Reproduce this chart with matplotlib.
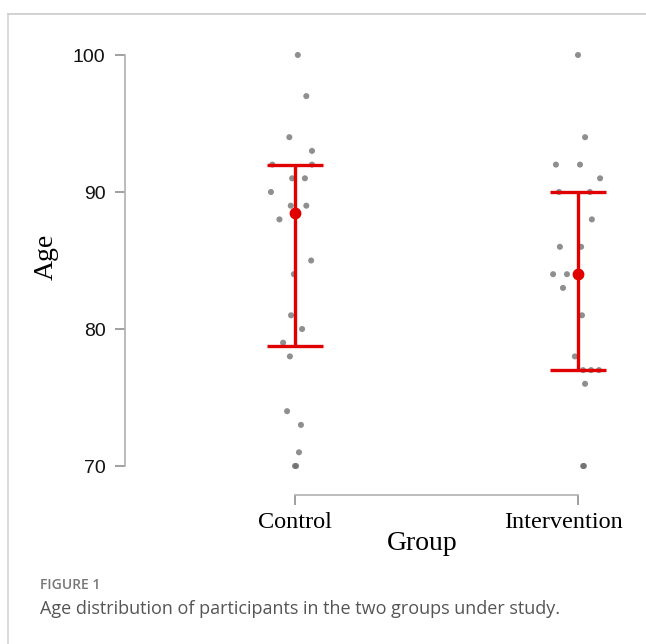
import matplotlib
matplotlib.use("Agg")
import matplotlib.pyplot as plt
import matplotlib.transforms as mtransforms
from matplotlib.lines import Line2D
import numpy as np

# ---- data ----
groups = ["Control", "Intervention"]
control_age = [100, 97, 94, 93, 92, 92, 91, 91, 90, 89, 89, 88, 85, 84, 81, 80, 79, 78, 74, 73, 71, 70, 70]
control_jitter = [0.01, 0.04, -0.02, 0.06, -0.08, 0.06, -0.01, 0.035, -0.085, -0.015, 0.04, -0.055, 0.057, -0.004, -0.014, 0.025, -0.042, -0.018, -0.028, 0.021, 0.014, 0.004, 0.0]
interv_age = [100, 94, 92, 92, 91, 90, 90, 88, 86, 86, 84, 84, 83, 81, 78, 77, 77, 77, 76, 70, 70]
interv_jitter = [0.0, 0.025, -0.078, 0.007, 0.078, -0.067, 0.042, 0.049, -0.064, 0.011, -0.088, -0.039, -0.053, 0.014, -0.011, 0.018, 0.046, 0.074, 0.025, 0.021, 0.018]
centers = [88.5, 84.0]
lower = [78.75, 77.0]
upper = [92.0, 90.0]
yticks = [70, 80, 90, 100]

W, H = 646, 644
fig = plt.figure(figsize=(W / 100, H / 100), dpi=100)

# figure frame (light gray border at top and left)
fig.add_artist(Line2D([8 / W, 1], [1 - 14 / H, 1 - 14 / H], color="#cfcfcf", lw=1.3, transform=fig.transFigure))
fig.add_artist(Line2D([8 / W, 8 / W], [0, 1 - 14 / H], color="#cfcfcf", lw=1.1, transform=fig.transFigure))

left_px, right_px, top_px, bot_px = 125, 640, 55, 466
ax = fig.add_axes([left_px / W, 1 - bot_px / H, (right_px - left_px) / W, (bot_px - top_px) / H])
ax.set_ylim(70, 100)
# x: 1 -> 295px, 2 -> 578px
ppu = 283.0
ax.set_xlim(1 - (295 - left_px) / ppu, 2 + (right_px - 578) / ppu)

x_c = [1 + j for j in control_jitter]
x_i = [2 + j for j in interv_jitter]
ax.scatter(x_c, control_age, s=19, color="#6a6a6a", alpha=0.75, edgecolors="none", zorder=2, clip_on=False)
ax.scatter(x_i, interv_age, s=19, color="#6a6a6a", alpha=0.75, edgecolors="none", zorder=2, clip_on=False)

xs = [1, 2]
yerr = [[c - l for c, l in zip(centers, lower)], [u - c for c, u in zip(centers, upper)]]
ax.errorbar(xs, centers, yerr=yerr, fmt="o", color="#e00000", ms=7.5, elinewidth=2.4,
            capsize=20, capthick=2.4, zorder=3, clip_on=False)

for s in ["top", "right"]:
    ax.spines[s].set_visible(False)
ax.spines["left"].set_bounds(70, 100)
ax.spines["bottom"].set_bounds(1, 2)
ax.spines["bottom"].set_position(("outward", 21))
for s in ["left", "bottom"]:
    ax.spines[s].set_color("#b0b0b0")
    ax.spines[s].set_linewidth(1.2)

ax.set_yticks(yticks)
ax.set_yticklabels([str(v) for v in yticks], fontsize=14, family="Liberation Sans", color="#111111")
ax.tick_params(axis="y", length=7, width=1.2, color="#909090", pad=7)
ax.set_xticks(xs)
ax.set_xticklabels(groups, fontsize=17.5, family="Liberation Serif", color="#000000")
ax.tick_params(axis="x", length=7, width=1.2, color="#909090", pad=5)

# shift the "Intervention" label left as in the reference
lab = ax.get_xticklabels()[1]
lab.set_transform(lab.get_transform() + mtransforms.ScaledTranslation(-14 / 100, 0, fig.dpi_scale_trans))

fig.text(422 / W, 1 - 544 / H, "Group", fontsize=20, family="Liberation Serif", color="#000000",
         ha="center", va="center")
fig.text(46 / W, 1 - 257 / H, "Age", rotation=90, fontsize=20, family="Liberation Serif",
         color="#000000", ha="center", va="center")

fig.text(40 / W, 1 - 585 / H, "FIGURE 1", fontsize=10, family="Open Sans", color="#777777",
         fontweight="semibold", ha="left", va="center")
fig.text(40 / W, 1 - 609 / H, "Age distribution of participants in the two groups under study.",
         fontsize=13, family="Open Sans", color="#555555", ha="left", va="center")

fig.savefig("out.png", dpi=100)
